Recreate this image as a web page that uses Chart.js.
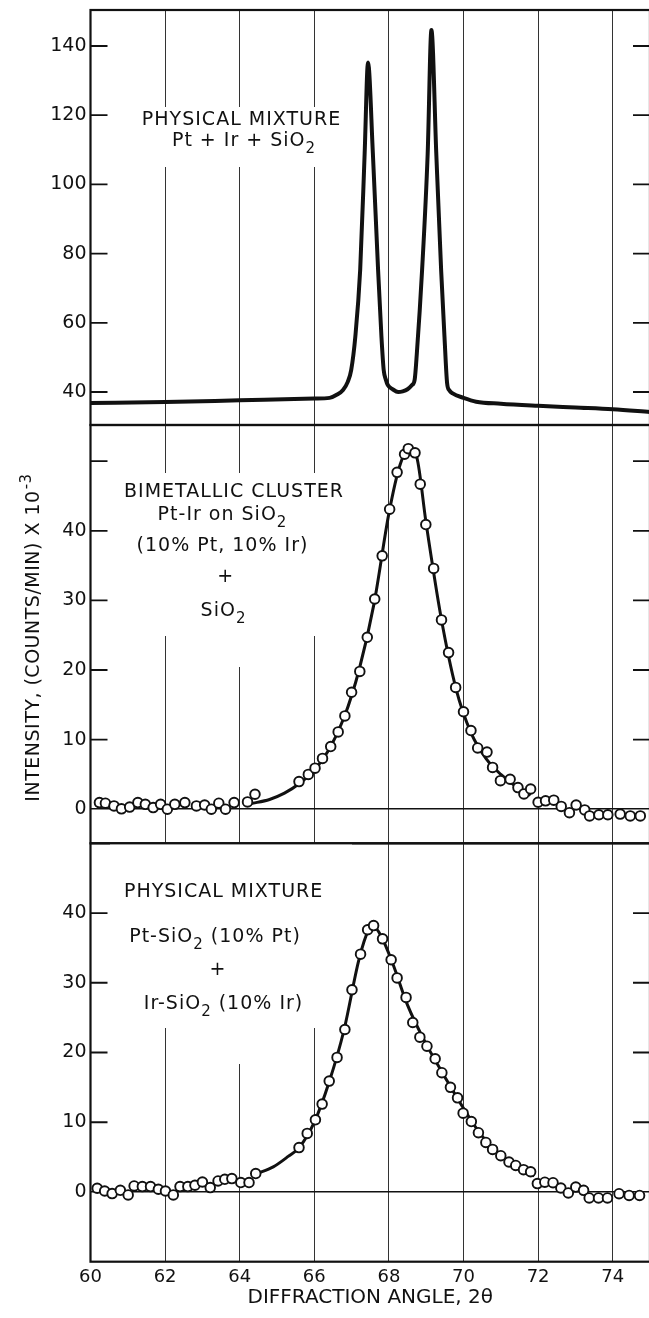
<!DOCTYPE html>
<html>
<head>
<meta charset="utf-8">
<script src="https://cdn.jsdelivr.net/npm/chart.js@4.4.1/dist/chart.umd.min.js"></script>
<style>
html, body { margin: 0; padding: 0; background: #fff; overflow: hidden; }
#wrap { position: relative; width: 649px; height: 1318px; overflow: hidden; background: #fff; }
canvas { position: absolute; left: 0; }
</style>
</head>
<body>
<div id="wrap">
<canvas id="topChart" width="660" height="440" style="top:0px"></canvas>
<canvas id="midChart" width="660" height="440" style="top:415px"></canvas>
<canvas id="botChart" width="660" height="485" style="top:833px"></canvas>
</div>
<script>
// top panel: physical mixture Pt + Ir + SiO2 (continuous trace)
var topAngle = [60, 62, 64, 66, 66.41, 66.6, 66.77, 66.9, 66.99, 67.1, 67.23, 67.35, 67.44, 67.57, 67.71, 67.8, 67.86, 67.92, 67.97, 68.1, 68.25, 68.37, 68.5, 68.62, 68.69, 68.75, 68.89, 69.04, 69.14, 69.27, 69.4, 69.49, 69.56, 69.62, 69.71, 70, 70.34, 71, 72, 73, 74, 75]
var topIntensity = [36.8, 37.1, 37.6, 38.1, 38.3, 39.2, 40.6, 43, 46.4, 56, 75.3, 109, 135.2, 109, 75.3, 56, 46.4, 43.5, 42, 40.8, 40, 40.2, 40.8, 42, 43.5, 51.3, 75.3, 109, 144.6, 109, 75.3, 56, 42.6, 40.5, 39.6, 38.3, 37.2, 36.6, 36, 35.5, 35, 34.2]

// middle panel: bimetallic cluster, measured points + drawn curve
var bimAngle = [60.24, 60.4, 60.63, 60.83, 61.05, 61.27, 61.47, 61.68, 61.88, 62.06, 62.26, 62.53, 62.84, 63.06, 63.24, 63.44, 63.62, 63.85, 64.21, 64.41, 65.59, 65.84, 66.02, 66.22, 66.44, 66.64, 66.82, 67, 67.22, 67.42, 67.62, 67.82, 68.02, 68.22, 68.42, 68.52, 68.7, 68.84, 68.99, 69.2, 69.41, 69.6, 69.79, 70, 70.2, 70.38, 70.63, 70.78, 70.99, 71.25, 71.46, 71.62, 71.8, 72, 72.2, 72.42, 72.62, 72.84, 73.02, 73.25, 73.38, 73.63, 73.87, 74.2, 74.47, 74.74]
var bimCounts = [0.95, 0.86, 0.47, 0.05, 0.3, 0.95, 0.7, 0.23, 0.7, 0, 0.7, 0.95, 0.47, 0.6, 0, 0.86, 0, 0.95, 1.05, 2.15, 3.97, 5, 5.9, 7.3, 9, 11.1, 13.4, 16.8, 19.8, 24.7, 30.2, 36.4, 43.1, 48.4, 51, 51.8, 51.2, 46.7, 40.9, 34.6, 27.2, 22.5, 17.5, 14, 11.3, 8.8, 8.2, 6, 4.1, 4.3, 3.1, 2.2, 2.9, 1, 1.2, 1.3, 0.4, -0.5, 0.6, -0.1, -0.96, -0.8, -0.8, -0.7, -0.96, -0.96]
var bimFitAngle = [64.3, 64.8, 65.2, 65.6, 66, 66.4, 66.8, 67.2, 67.6, 68, 68.3, 68.55, 68.75, 69, 69.4, 69.8, 70.2, 70.6, 71, 71.4, 71.8]
var bimFitCounts = [0.8, 1.4, 2.3, 3.7, 5.6, 8.6, 13.2, 20, 29.5, 42.5, 49.5, 51.8, 50.5, 41, 27.5, 17.3, 11, 7.3, 5, 3.3, 2]

// bottom panel: physical mixture Pt-SiO2 + Ir-SiO2
var pmAngle = [60.18, 60.38, 60.58, 60.8, 61.01, 61.17, 61.39, 61.61, 61.82, 62.01, 62.22, 62.4, 62.61, 62.8, 63, 63.21, 63.42, 63.6, 63.79, 64.03, 64.25, 64.43, 65.59, 65.81, 66.03, 66.21, 66.4, 66.61, 66.82, 67.01, 67.24, 67.43, 67.59, 67.83, 68.06, 68.22, 68.46, 68.64, 68.83, 69.02, 69.24, 69.42, 69.65, 69.84, 69.99, 70.21, 70.4, 70.6, 70.78, 71, 71.22, 71.4, 71.61, 71.8, 71.98, 72.18, 72.4, 72.61, 72.81, 73.01, 73.22, 73.37, 73.62, 73.86, 74.17, 74.44, 74.72]
var pmCounts = [0.53, 0.14, -0.23, 0.24, -0.43, 0.86, 0.77, 0.77, 0.39, 0.14, -0.43, 0.77, 0.77, 0.96, 1.43, 0.63, 1.58, 1.82, 1.92, 1.35, 1.35, 2.64, 6.36, 8.4, 10.35, 12.6, 15.9, 19.3, 23.3, 29, 34.1, 37.6, 38.2, 36.3, 33.3, 30.7, 27.9, 24.3, 22.2, 20.9, 19.1, 17.1, 15, 13.5, 11.3, 10.1, 8.5, 7.1, 6.1, 5.2, 4.3, 3.8, 3.2, 2.9, 1.2, 1.4, 1.33, 0.57, -0.14, 0.7, 0.23, -0.86, -0.86, -0.86, -0.25, -0.5, -0.5]
var pmFitAngle = [64.45, 64.9, 65.3, 65.6, 66, 66.4, 66.8, 67.2, 67.45, 67.6, 67.8, 68.1, 68.5, 69, 69.5, 70, 70.5, 71, 71.5, 71.9]
var pmFitCounts = [2.6, 3.6, 5.1, 6.4, 10, 15.8, 23.3, 33.4, 37.5, 38, 36.6, 32.8, 26.8, 21.2, 16.5, 12, 8, 5.3, 3.5, 2.3]

// tick values (labels shown, and the short marks on the frame)
var angleTicks = [60, 62, 64, 66, 68, 70, 72, 74]
var topYLabels = [40, 60, 80, 100, 120, 140]
var midYTicks = [0, 10, 20, 30, 40, 50]
var midYLabels = [0, 10, 20, 30, 40]
var midYMarks = [10, 20, 30, 40, 50]
var botYTicks = [0, 10, 20, 30, 40]
var botYLabels = [0, 10, 20, 30, 40]
var botYMarks = [10, 20, 30, 40]

var FONT = "'DejaVu Sans', sans-serif"
var INK = '#111'

function pts(xs, ys) {
    return xs.map(function (x, i) { return { x: x, y: ys[i] } })
}

function curve(xs, ys, w) {
    return { data: pts(xs, ys), showLine: true, borderColor: INK, borderWidth: w, pointRadius: 0, cubicInterpolationMode: 'monotone', fill: false }
}

function circles(xs, ys) {
    return { data: pts(xs, ys), showLine: false, pointRadius: 4.8, pointBorderWidth: 1.9, pointBackgroundColor: '#fff', pointBorderColor: INK, borderColor: INK, backgroundColor: '#fff' }
}

// frame round the plot area and the short inward ticks on both sides
var framePlugin = {
    id: 'frame',
    afterDraw: function (chart, args, opts) {
        var ctx = chart.ctx, a = chart.chartArea, ys = chart.scales.y
        ctx.save()
        ctx.strokeStyle = INK
        ctx.lineWidth = 1.8
        ctx.beginPath()
        opts.marks.forEach(function (v) {
            var py = ys.getPixelForValue(v)
            ctx.moveTo(a.left, py); ctx.lineTo(a.left + 17, py)
            ctx.moveTo(a.right, py); ctx.lineTo(a.right - 17, py)
        })
        ctx.stroke()
        ctx.lineWidth = 2.2
        ctx.strokeRect(a.left, a.top, a.right - a.left, a.bottom - a.top)
        ctx.restore()
    }
}

function drawRich(ctx, parts, cx, cy, size) {
    var widths = parts.map(function (p) {
        ctx.font = (p[1] ? size - 4 : size) + 'px ' + FONT
        return ctx.measureText(p[0]).width
    })
    var total = widths.reduce(function (s, w) { return s + w }, 0)
    var x = cx - total / 2
    parts.forEach(function (p, i) {
        ctx.font = (p[1] ? size - 4 : size) + 'px ' + FONT
        ctx.fillText(p[0], x, p[1] ? cy + 8 : cy)
        x += widths[i]
    })
}

// white patches behind the panel captions, then the captions themselves
var notesPlugin = {
    id: 'notes',
    beforeDatasetsDraw: function (chart, args, opts) {
        var ctx = chart.ctx
        ctx.save()
        ctx.fillStyle = '#fff'
        opts.boxes.forEach(function (b) { ctx.fillRect(b[0], b[1], b[2], b[3]) })
        ctx.restore()
    },
    afterDraw: function (chart, args, opts) {
        var ctx = chart.ctx
        ctx.save()
        ctx.fillStyle = INK
        ctx.textBaseline = 'middle'
        ctx.textAlign = 'left'
        ctx.letterSpacing = '1px'
        opts.lines.forEach(function (l) { drawRich(ctx, l.parts, l.x, l.y, 19) })
        if (opts.yTitle) {
            var t = opts.yTitle
            ctx.letterSpacing = '0.5px'
            ctx.translate(t.x, t.y)
            ctx.rotate(-Math.PI / 2)
            ctx.font = '19px ' + FONT
            var w1 = ctx.measureText(t.text).width
            ctx.font = '15px ' + FONT
            var w2 = ctx.measureText(t.sup).width
            var x0 = -(w1 + w2) / 2
            ctx.font = '19px ' + FONT
            ctx.fillText(t.text, x0, 0)
            ctx.font = '15px ' + FONT
            ctx.fillText(t.sup, x0 + w1 + 1, -7)
        }
        ctx.restore()
    }
}

function panel(id, datasets, y, notes, showX, pad) {
    var xScale = {
        type: 'linear', min: 60, max: 75,
        border: { display: false },
        grid: { color: '#333', lineWidth: 1, drawTicks: false },
        ticks: { display: showX, padding: 5, color: INK, font: { family: FONT, size: 18 } },
        afterBuildTicks: function (axis) { axis.ticks = angleTicks.map(function (v) { return { value: v } }) },
        title: { display: showX, text: 'DIFFRACTION ANGLE, 2θ', color: INK, font: { family: FONT, size: 20 }, padding: { top: 0, bottom: 8.5 } },
        afterFit: function (axis) {
            axis.height = showX ? 56.3 : 0
            axis.paddingLeft = 0
            axis.paddingRight = 0
        }
    }
    var yScale = {
        min: y.min, max: y.max,
        border: { display: false },
        grid: {
            drawTicks: false, lineWidth: 1.5,
            color: function (c) { return c.tick && c.tick.value === 0 ? INK : 'rgba(0,0,0,0)' }
        },
        ticks: {
            padding: 4, color: INK, font: { family: FONT, size: 19 },
            callback: function (v) { return y.labels.indexOf(v) >= 0 ? String(v) : '' }
        },
        afterBuildTicks: function (axis) { axis.ticks = y.ticks.map(function (v) { return { value: v } }) },
        afterFit: function (axis) {
            axis.width = 90.5
            axis.paddingTop = 0
            axis.paddingBottom = 0
        }
    }
    return new Chart(document.getElementById(id), {
        type: 'scatter',
        data: { datasets: datasets },
        options: {
            responsive: false, animation: false, events: [],
            layout: { padding: pad },
            scales: { x: xScale, y: yScale },
            plugins: {
                legend: { display: false }, tooltip: { enabled: false },
                frame: { marks: y.marks }, notes: notes
            }
        },
        plugins: [notesPlugin, framePlugin]
    })
}

panel('topChart', [curve(topAngle, topIntensity, 4)],
    { min: 30.46, max: 150.4, ticks: topYLabels, labels: topYLabels, marks: topYLabels },
    {
        boxes: [[128, 107, 224, 60]],
        lines: [
            { parts: [['PHYSICAL MIXTURE']], x: 241.5, y: 120 },
            { parts: [['Pt + Ir + SiO'], ['2', true]], x: 244, y: 141 }
        ]
    }, false, { left: 0, right: 10, top: 10, bottom: 15 })

panel('midChart', [circles(bimAngle, bimCounts), curve(bimFitAngle, bimFitCounts, 3)],
    { min: -4.9, max: 55.2, ticks: midYTicks, labels: midYLabels, marks: midYMarks },
    {
        boxes: [[110, 58, 242, 163], [225, 215, 27, 37]],
        lines: [
            { parts: [['BIMETALLIC CLUSTER']], x: 234, y: 77 },
            { parts: [['Pt-Ir on SiO'], ['2', true]], x: 222.5, y: 100 },
            { parts: [['(10% Pt, 10% Ir)']], x: 222.5, y: 131 },
            { parts: [['+']], x: 225.6, y: 162 },
            { parts: [['SiO'], ['2', true]], x: 223.5, y: 196 }
        ],
        yTitle: { text: 'INTENSITY, (COUNTS/MIN) X 10', sup: '-3', x: 34, y: 223 }
    }, false, { left: 0, right: 10, top: 10, bottom: 11.7 })

panel('botChart', [circles(pmAngle, pmCounts), curve(pmFitAngle, pmFitCounts, 3)],
    { min: -10, max: 50, ticks: botYTicks, labels: botYLabels, marks: botYMarks },
    {
        boxes: [[110, 10, 242, 185], [225, 190, 27, 41]],
        lines: [
            { parts: [['PHYSICAL MIXTURE']], x: 223.6, y: 59 },
            { parts: [['Pt-SiO'], ['2', true], [' (10% Pt)']], x: 215, y: 104 },
            { parts: [['+']], x: 218, y: 137 },
            { parts: [['Ir-SiO'], ['2', true], [' (10% Ir)']], x: 223.5, y: 171 }
        ]
    }, true, { left: 0, right: 10, top: 10.3, bottom: 0 })
</script>
</body>
</html>
